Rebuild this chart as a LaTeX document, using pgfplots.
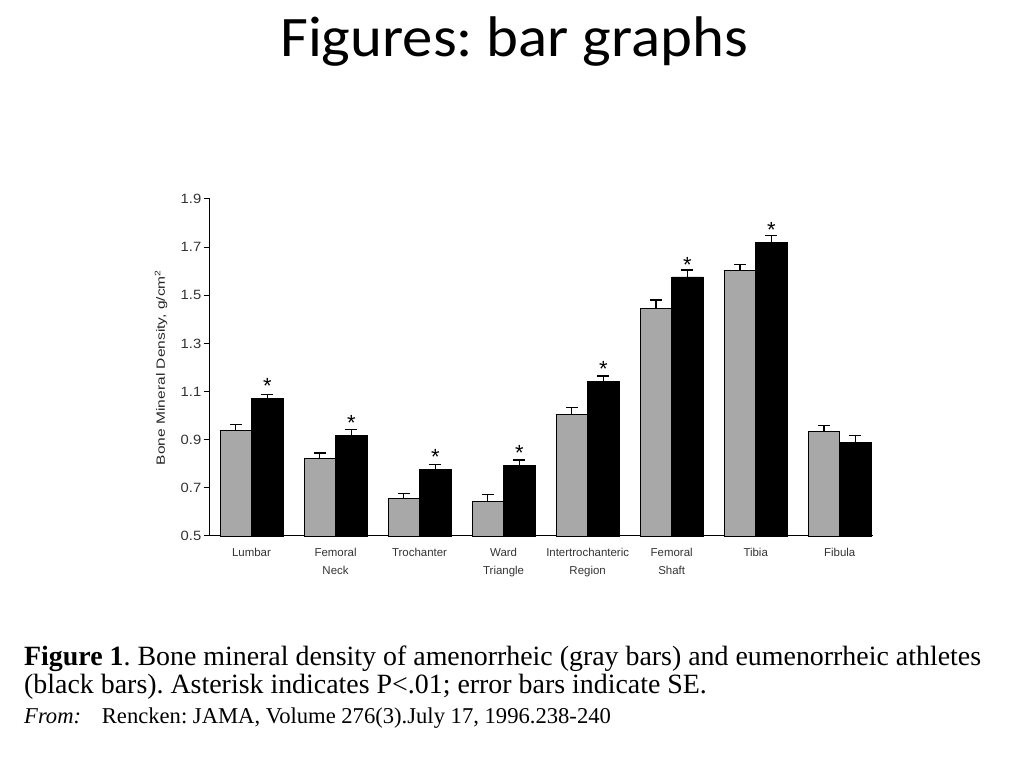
\documentclass[border=0pt]{standalone}
\usepackage{fontspec}
\usepackage{pgfplots}
\pgfplotsset{compat=1.18}
\setmainfont{Liberation Sans}
\newfontfamily\titlefont[FakeStretch=1.06]{Carlito}
\newfontfamily\capfont{Liberation Serif}
\newfontfamily\ylabfont[FakeStretch=1.3]{Liberation Sans}
\newfontfamily\tickfont[FakeStretch=1.1]{Liberation Sans}
\definecolor{bargray}{RGB}{168,168,168}

\pgfplotstableread{
x y e
0 0.940 0.024
1 0.821 0.024
2 0.655 0.020
3 0.643 0.030
4 1.006 0.029
5 1.444 0.036
6 1.605 0.023
7 0.934 0.025
}\amen

\pgfplotstableread{
x y e m
0 1.071 0.018 *
1 0.917 0.025 *
2 0.776 0.022 *
3 0.792 0.024 *
4 1.143 0.022 *
5 1.576 0.029 *
6 1.718 0.029 *
7 0.888 0.028 {}
}\eumen

\begin{document}
\frenchspacing
\begin{tikzpicture}
\useasboundingbox (0bp,0bp) rectangle (1024bp,768bp);
\node[anchor=base, inner sep=0] at (514bp,711.3bp) {\titlefont\fontsize{57.5}{60}\selectfont Figures: bar graphs};
\begin{axis}[
  at={(209.5bp,232bp)}, anchor=south west,
  scale only axis, width=663bp, height=337bp,
  xmin=-0.5, xmax=7.39, ymin=0.5, ymax=1.9,
  ybar=0pt, bar width=0.375,
  axis lines=left, axis line style={-, line width=1bp},
  ytick={0.5,0.7,0.9,1.1,1.3,1.5,1.7,1.9},
  yticklabels={0.5,0.7,0.9,1.1,1.3,1.5,1.7,1.9},
  yticklabel style={font=\tickfont\fontsize{13.5}{14}\selectfont, text=black!80, inner sep=2bp},
  tick align=outside, major tick length=6bp,
  ytick style={line width=1bp, black},
  xtick={0,...,7}, xtick style={draw=none},
  xticklabels={Lumbar,{Femoral\\Neck},Trochanter,{Ward\\Triangle},{Intertrochanteric\\Region},{Femoral\\Shaft},Tibia,Fibula},
  xticklabel style={align=center, font=\fontsize{11.5}{18}\selectfont, text=black!80, yshift=-3bp},
  ylabel={\ylabfont Bone Mineral Density, g/cm\textsuperscript{2}},
  every axis y label/.style={at={(axis description cs:-0.073,0.5)}, rotate=90, anchor=center, font=\fontsize{12}{14}\selectfont, text=black!85},
  error bars/y dir=plus, error bars/y explicit,
  error bars/error bar style={line width=1.2bp, black},
  error bars/error mark options={rotate=90, mark size=6bp, line width=1.2bp, black},
  clip=false,
]
\addplot[fill=bargray, draw=black, line width=0.8bp]
  table[x=x, y=y, y error=e] {\amen};
\addplot[fill=black, draw=black, line width=0.8bp,
  point meta=explicit symbolic,
  nodes near coords,
  every node near coord/.append style={inner sep=0pt, yshift=4.5bp, font=\fontsize{22}{22}\selectfont, text=black}]
  table[x=x, y=y, y error=e, meta=m] {\eumen};
\end{axis}
\node[anchor=base west, inner sep=0] at (24bp,102.7bp) {\capfont\fontsize{28}{28}\selectfont\textbf{Figure 1}. Bone mineral density of amenorrheic (gray bars) and eumenorrheic athletes};
\node[anchor=base west, inner sep=0] at (24bp,74.7bp) {\capfont\fontsize{28}{28}\selectfont (black bars). Asterisk indicates P<.01; error bars indicate SE.};
\node[anchor=base west, inner sep=0] at (24bp,44.7bp) {\capfont\fontsize{22.7}{24}\selectfont\itshape From:};
\node[anchor=base west, inner sep=0] at (101.7bp,44.7bp) {\capfont\fontsize{22.7}{24}\selectfont Rencken: JAMA, Volume 276(3).July 17, 1996.238-240};
\end{tikzpicture}
\end{document}
